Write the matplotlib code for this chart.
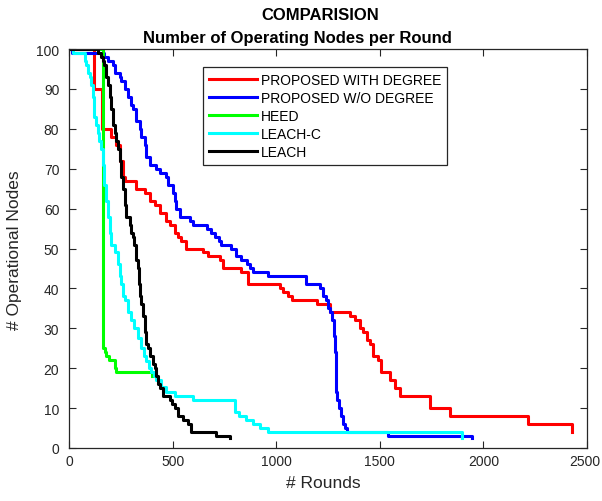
import matplotlib
matplotlib.use("Agg")
import matplotlib.pyplot as plt
from matplotlib.transforms import ScaledTranslation

# rounds at which the number of alive nodes changes, and the new count
red_rounds = [0, 123, 157, 204, 228, 244, 260, 268, 325, 365, 389, 413, 437, 470, 486, 510, 524, 542, 566,
              645, 669, 727, 741, 832, 862, 1017, 1031, 1056, 1075, 1196, 1258, 1355, 1379, 1403, 1418,
              1436, 1452, 1466, 1490, 1508, 1548, 1572, 1597, 1742, 1838, 2215, 2426]
red_nodes = [100, 90, 80, 78, 76, 72, 68, 67, 65, 64, 62, 61, 59, 57, 56, 54, 53, 52, 50,
             49, 48, 47, 45, 44, 41, 40, 39, 38, 37, 36, 34, 33, 32, 30, 29,
             27, 26, 23, 22, 19, 17, 15, 13, 10, 8, 6, 4]

blue_rounds = [0, 15, 171, 188, 212, 220, 244, 252, 268, 284, 300, 308, 325, 341, 349, 365, 373, 389, 421,
               437, 470, 477, 501, 510, 518, 534, 582, 598, 667, 687, 703, 722, 735, 784, 808, 832, 860,
               872, 888, 960, 1146, 1210, 1226, 1242, 1250, 1262, 1270, 1278, 1283, 1287, 1290, 1293,
               1303, 1312, 1320, 1331, 1340, 1538, 1945]
blue_nodes = [100, 99, 98, 97, 96, 94, 93, 92, 90, 88, 86, 85, 82, 80, 78, 76, 73, 71, 70,
              69, 68, 66, 64, 62, 60, 58, 57, 56, 55, 54, 53, 52, 51, 50, 48, 47, 46,
              45, 44, 43, 41, 40, 38, 37, 35, 34, 32, 28, 24, 20, 14, 12,
              10, 8, 6, 5, 4, 3, 2.5]

green_rounds = [0, 163, 172, 180, 195, 222, 228, 400]
green_nodes = [100, 25, 24, 23, 22, 20, 19, 18]

cyan_rounds = [0, 20, 78, 83, 91, 99, 107, 115, 123, 131, 139, 147, 155, 163, 171, 180, 188, 196, 204,
               220, 236, 244, 252, 260, 268, 284, 300, 316, 332, 349, 361, 373, 385, 397, 409, 421,
               445, 470, 510, 598, 800, 820, 856, 888, 920, 960, 1895]
cyan_nodes = [100, 99, 97, 96, 94, 93, 91, 88, 83, 81, 79, 77, 75, 71, 66, 62, 58, 54, 51,
              49, 46, 43, 41, 38, 37, 34, 32, 30, 27.5, 25, 23, 21.7, 20, 19, 18, 17,
              15.4, 14, 13, 12, 9, 8, 7, 6, 5, 4, 2.5]

black_rounds = [0, 139, 155, 165, 171, 180, 188, 196, 204, 212, 220, 228, 236, 244, 252, 260, 268, 276,
                292, 300, 308, 316, 325, 332, 337, 341, 349, 357, 365, 373, 381, 389, 405, 413, 421,
                429, 437, 453, 486, 498, 510, 526, 550, 574, 590, 711, 775]
black_nodes = [100, 99, 98, 97, 96, 93, 91, 88, 85, 81, 79, 77, 75, 72, 68, 65, 61, 58,
               56, 54, 53, 51, 47, 45, 41, 38, 36, 33, 29, 26, 25, 23, 21, 20, 18,
               16, 15, 13, 12, 11, 10, 8, 7, 6, 4, 3, 2.5]

series = [
    ("PROPOSED WITH DEGREE", red_rounds, red_nodes, "#ff0000"),
    ("PROPOSED W/O DEGREE", blue_rounds, blue_nodes, "#0000ff"),
    ("HEED", green_rounds, green_nodes, "#00ff00"),
    ("LEACH-C", cyan_rounds, cyan_nodes, "#00ffff"),
    ("LEACH", black_rounds, black_nodes, "#000000"),
]

x_ticks = [0, 500, 1000, 1500, 2000, 2500]
y_ticks = [0, 10, 20, 30, 40, 50, 60, 70, 80, 90, 100]

plt.rcParams['font.family'] = ['Liberation Sans', 'DejaVu Sans']
axis_col = "#262626"

fig = plt.figure(figsize=(6.02, 5.02), dpi=100)
ax = fig.add_axes([69 / 602, 1 - 449 / 502, 518 / 602, 399 / 502])

for name, xs, ys, col in series:
    ax.plot(xs, ys, drawstyle='steps-post', color=col, linewidth=2.2, label=name)

ax.set_xlim(0, 2500)
ax.set_ylim(0, 100)
ax.set_xticks(x_ticks)
ax.set_yticks(y_ticks)
ax.tick_params(direction='in', top=True, right=True, length=5, width=0.8,
               colors=axis_col, labelsize=10)
ax.tick_params(axis='x', pad=4)
ax.tick_params(axis='y', pad=7)
for sp in ax.spines.values():
    sp.set_color(axis_col)
    sp.set_linewidth(0.9)

# keep the last x tick label inside the figure
last = ax.get_xticklabels()[-1]
last.set_transform(last.get_transform() + ScaledTranslation(-2.5 / 100, 0, fig.dpi_scale_trans))

leg = ax.legend(loc='upper left', bbox_to_anchor=(0.259, 0.955), fontsize=10,
                handlelength=3.5, handletextpad=0.25, labelspacing=0.3,
                borderpad=0.4, borderaxespad=0, fancybox=False, framealpha=1)
leg.get_frame().set_edgecolor(axis_col)
leg.get_frame().set_linewidth(0.9)

fig.text(320 / 602, 1 - 20 / 502, "COMPARISION", ha='center', va='baseline',
         fontsize=12, fontweight='bold')
fig.text(297.5 / 602, 1 - 43 / 502, "Number of Operating Nodes per Round", ha='center',
         va='baseline', fontsize=12, fontweight='bold')
fig.text(323.5 / 602, 1 - 488 / 502, "# Rounds", ha='center', va='baseline',
         fontsize=12.5, color=axis_col)
fig.text(15 / 602, 1 - 250 / 502, "# Operational Nodes", ha='center', va='center',
         rotation=90, fontsize=12.5, color=axis_col)

fig.savefig("out.png", dpi=100)
